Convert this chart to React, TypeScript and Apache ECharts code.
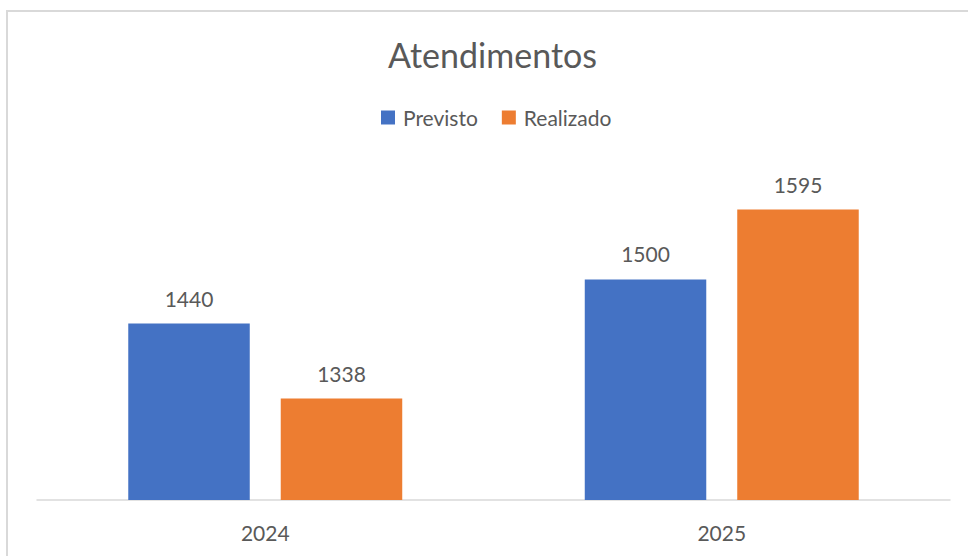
import React, { useEffect, useRef } from "react";
import * as echarts from "echarts";

const categories = ["2024", "2025"];
const previsto = [1440, 1500];
const realizado = [1338, 1595];
const seriesNames = ["Previsto", "Realizado"];

const FONT = "Lato, 'Open Sans', sans-serif";
const TEXT = "#595959";

export default function App() {
  const ref = useRef<HTMLDivElement>(null);
  useEffect(() => {
    if (!ref.current) return;
    const chart = echarts.init(ref.current, undefined, { renderer: "svg" });
    chart.setOption({
      animation: false,
      backgroundColor: "#ffffff",
      title: {
        text: "Atendimentos",
        left: 492.5,
        textAlign: "center",
        top: 35,
        padding: 0,
        textStyle: { fontFamily: FONT, fontSize: 34, fontWeight: "normal", color: TEXT, lineHeight: 38 },
      },
      legend: {
        data: seriesNames,
        left: 381,
        top: 107,
        padding: 0,
        itemWidth: 14,
        itemHeight: 14,
        itemGap: 24,
        icon: "rect",
        textStyle: { fontFamily: FONT, fontSize: 21, color: TEXT, lineHeight: 20, padding: [0, 0, 0, 3] },
      },
      graphic: [
        {
          type: "rect",
          shape: { x: 7, y: 11, width: 980, height: 580 },
          style: { fill: "none", stroke: "#d9d9d9", lineWidth: 2 },
          silent: true,
          z: -1,
        },
      ],
      grid: { left: 37, right: 18, top: 132.4, bottom: 56, containLabel: false },
      xAxis: {
        type: "category",
        data: categories,
        axisLine: { lineStyle: { color: "#d9d9d9", width: 1.5 } },
        axisTick: { show: false },
        axisLabel: { fontFamily: FONT, fontSize: 21, color: TEXT, margin: 22 },
      },
      yAxis: {
        type: "value",
        min: 1200,
        max: 1700,
        show: false,
        splitLine: { show: false },
      },
      series: [
        {
          name: seriesNames[0],
          type: "bar",
          data: previsto,
          barWidth: 121.5,
          barGap: "25.5%",
          itemStyle: { color: "#4472C4" },
          label: { show: true, position: "top", distance: 15, fontFamily: FONT, fontSize: 21, color: TEXT },
        },
        {
          name: seriesNames[1],
          type: "bar",
          data: realizado,
          barWidth: 121.5,
          barGap: "25.5%",
          itemStyle: { color: "#ED7D31" },
          label: { show: true, position: "top", distance: 15, fontFamily: FONT, fontSize: 21, color: TEXT },
        },
      ],
    });
    return () => chart.dispose();
  }, []);
  return (
    <div
      ref={ref}
      style={{ position: "fixed", left: 0, top: 0, width: 968, height: 556 }}
    />
  );
}
